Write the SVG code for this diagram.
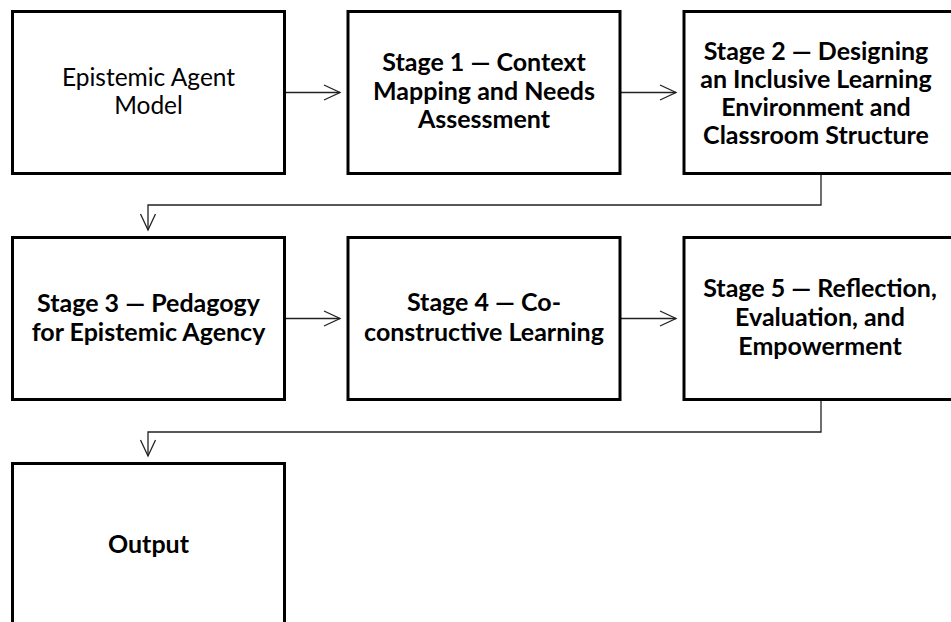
<svg xmlns="http://www.w3.org/2000/svg" width="951" height="622" viewBox="0 0 951 622">
<defs>
<marker id="arr" markerUnits="userSpaceOnUse" markerWidth="20" markerHeight="20" viewBox="-18 -10 20 20" refX="0" refY="0" orient="auto">
<path d="M-16,-7.5 L0,0 L-16,7.5" fill="none" stroke="#222" stroke-width="1.3"/>
</marker>
</defs>
<style>
rect.box{fill:#fff;stroke:#000;stroke-width:3}
text{font-family:Lato,"Liberation Sans",sans-serif;font-size:24.5px;fill:#000;text-anchor:middle}
text.b{font-weight:bold;font-size:25px}
.conn path{fill:none;stroke:#222;stroke-width:1.3}
</style>
<rect width="951" height="622" fill="#fff"/>
<g class="conn" id="connectors">
<path d="M285,92.5 H340" marker-end="url(#arr)"/>
<path d="M621,92.5 H676" marker-end="url(#arr)"/>
<path d="M821,174 V205 H148 V230" marker-end="url(#arr)"/>
<path d="M285,318.5 H340" marker-end="url(#arr)"/>
<path d="M621,318.5 H676" marker-end="url(#arr)"/>
<path d="M821,400 V432 H148 V456" marker-end="url(#arr)"/>
</g>
<g id="n0">
<rect class="box" x="12.5" y="11.5" width="272" height="162"/>
<text x="148.5" y="86">Epistemic Agent</text>
<text x="148.5" y="114">Model</text>
</g>
<g id="n1">
<rect class="box" x="348" y="11.5" width="272" height="162"/>
<text class="b" x="484" y="71">Stage 1 — Context</text>
<text class="b" x="484" y="100">Mapping and Needs</text>
<text class="b" x="484" y="128">Assessment</text>
</g>
<g id="n2">
<rect class="box" x="684" y="11.5" width="272" height="162"/>
<text class="b" x="816" y="60">Stage 2 — Designing</text>
<text class="b" x="816" y="88">an Inclusive Learning</text>
<text class="b" x="816" y="116">Environment and</text>
<text class="b" x="816" y="144">Classroom Structure</text>
</g>
<g id="n3">
<rect class="box" x="12.5" y="237.5" width="272" height="162"/>
<text class="b" x="148.5" y="312">Stage 3 — Pedagogy</text>
<text class="b" x="148.5" y="341">for Epistemic Agency</text>
</g>
<g id="n4">
<rect class="box" x="348" y="237.5" width="272" height="162"/>
<text class="b" x="484" y="311">Stage 4 — Co-</text>
<text class="b" x="484" y="341">constructive Learning</text>
</g>
<g id="n5">
<rect class="box" x="684" y="237.5" width="272" height="162"/>
<text class="b" x="820" y="297">Stage 5 — Reflection,</text>
<text class="b" x="820" y="326">Evaluation, and</text>
<text class="b" x="820" y="355">Empowerment</text>
</g>
<g id="n6">
<rect class="box" x="12.5" y="463.5" width="272" height="162"/>
<text class="b" x="148.5" y="553">Output</text>
</g>
</svg>
